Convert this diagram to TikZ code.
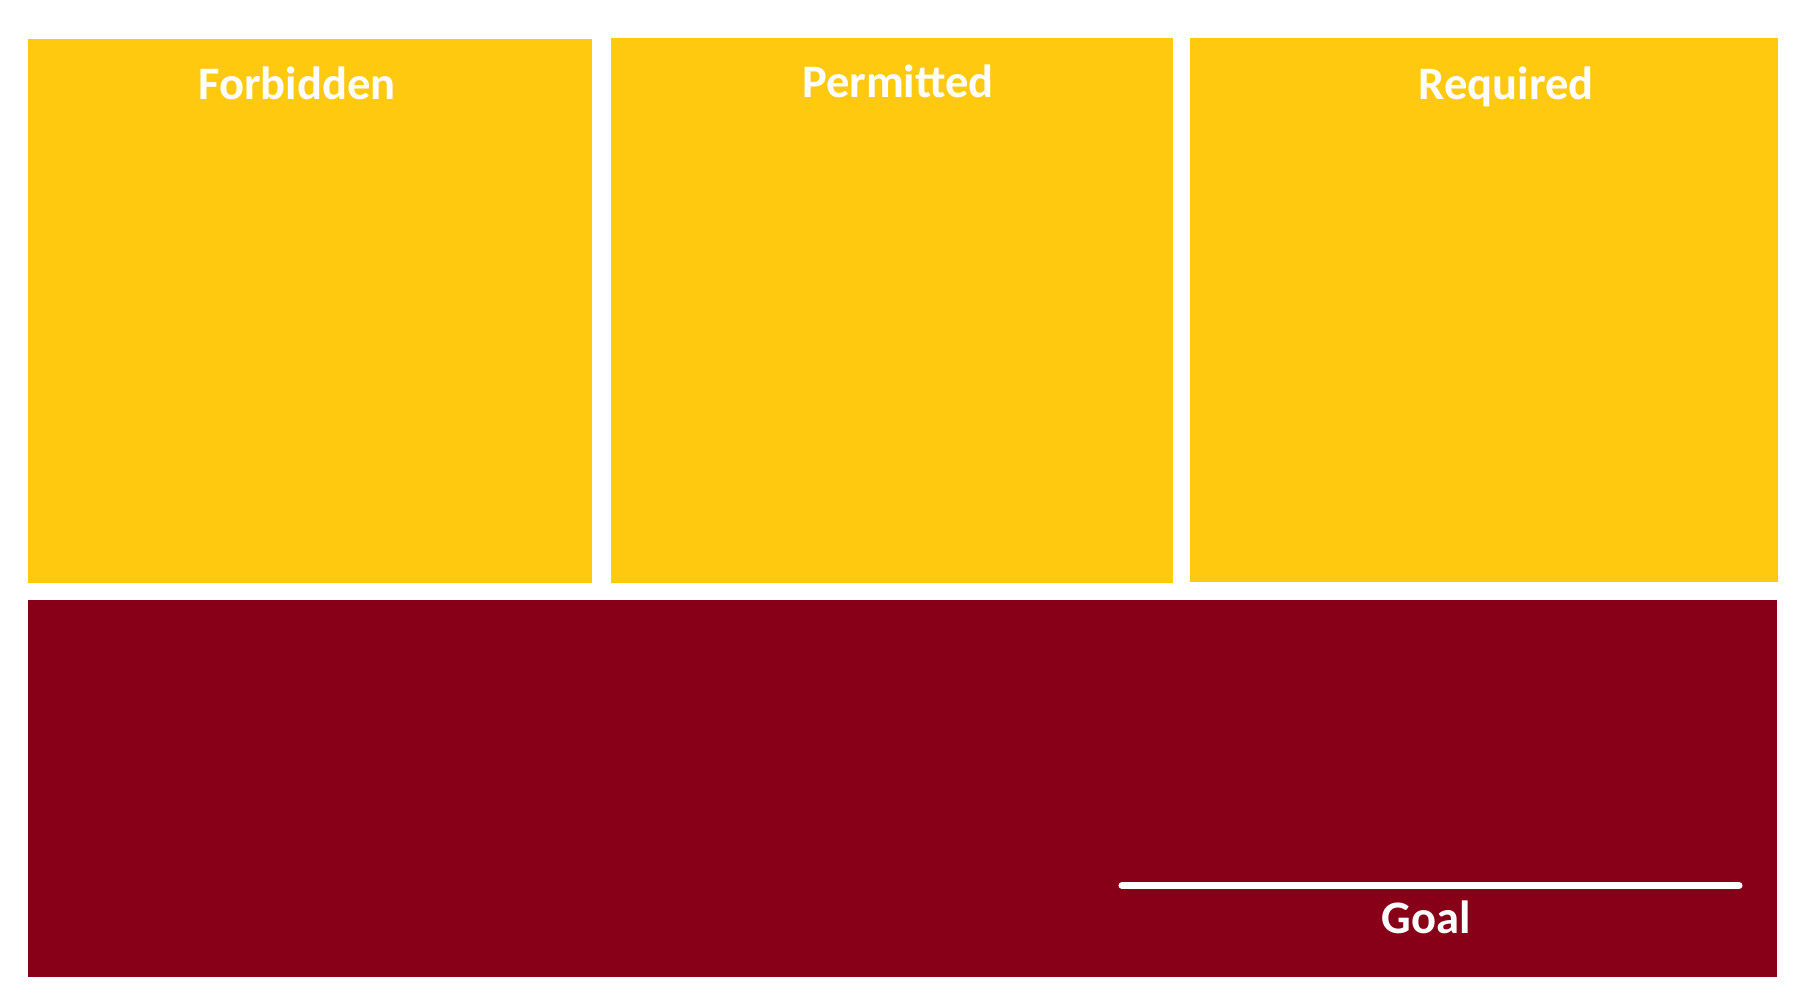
\documentclass[tikz,border=0pt]{standalone}
\usepackage{xcolor}
\usepackage{fontspec}
\setmainfont{Carlito}
\usepackage{tikz}
\definecolor{ruleYellow}{HTML}{FEC90F}
\definecolor{ruleRed}{HTML}{880018}

\begin{document}
\begin{tikzpicture}[
    x=0.02cm, y=-0.02cm,
    panel/.style={rectangle, anchor=north west, inner sep=0pt, outer sep=0pt,
                  draw=none, fill=#1},
    panel/.default=ruleYellow,
    title/.style={anchor=base, inner sep=0pt, text=white,
                  font=\fontsize{26.5}{30}\selectfont\bfseries},
    goalline/.style={draw=white, line width=4pt, line cap=round}
]
    \useasboundingbox (0,0) rectangle (1800,1000);

    % --- Three rule panels ---
    \node[panel, minimum width=11.28cm, minimum height=10.88cm] (forbidden) at (28,39) {};
    \node[panel, minimum width=11.24cm, minimum height=10.9cm] (permitted) at (611,38) {};
    \node[panel, minimum width=11.76cm, minimum height=10.88cm] (required) at (1190,38) {};

    \node[title] (forbiddenLbl) at (297,100) {Forbidden};
    \node[title] (permittedLbl) at (898,98) {Permitted};
    \node[title] (requiredLbl) at (1506,100) {Required};

    % --- Goal area ---
    \node[panel=ruleRed, minimum width=34.98cm, minimum height=7.54cm] (goalarea) at (28,600) {};
    \coordinate (goalL) at (1122,885.5);
    \coordinate (goalR) at (1739,885.5);
    \draw[goalline] (goalL) -- (goalR);
    \node[title] (goalLbl) at (1426,933) {Goal};
\end{tikzpicture}
\end{document}
